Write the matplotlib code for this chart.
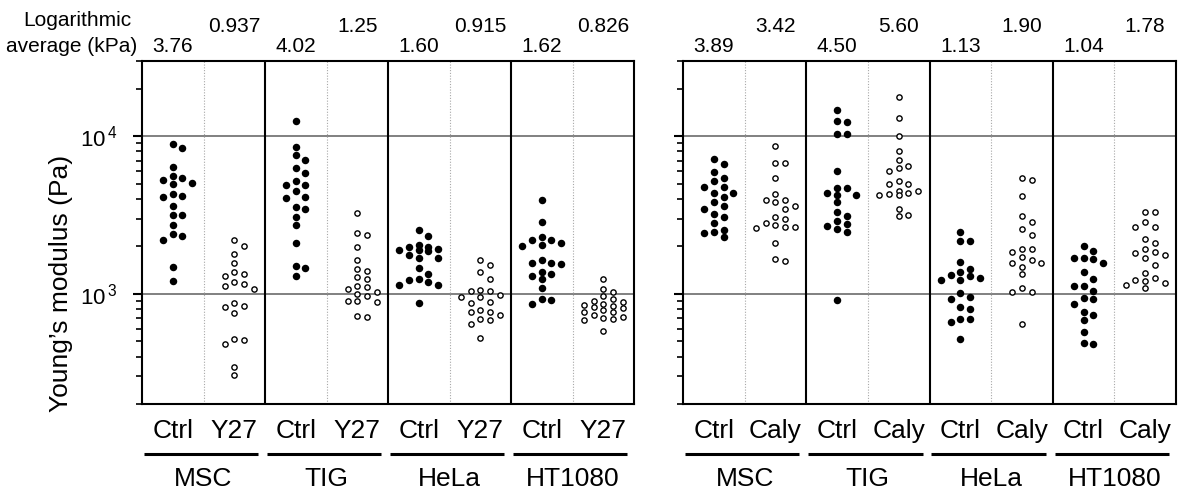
import numpy as np
import matplotlib
matplotlib.use("Agg")
import matplotlib.pyplot as plt
import matplotlib.transforms as mtransforms
from matplotlib.ticker import LogLocator, NullFormatter, FixedLocator

plt.rcParams['font.family'] = ['Liberation Sans', 'DejaVu Sans']
plt.rcParams['mathtext.fontset'] = 'custom'
plt.rcParams['mathtext.rm'] = 'Liberation Sans'

# Young's modulus per cell (Pa)
# left panel: Y-27632 experiment
msc_ctrl_a = [8900, 8440, 6340, 5580, 5270, 4970, 5040, 5420, 4300, 4110,
              4190, 3620, 3180, 3180, 2730, 2330, 2190, 2410, 1490, 1210]
msc_y27 = [2190, 2000, 1780, 1560, 1370, 1290, 1330, 1190, 1120, 1080,
           1150, 843, 758, 820, 873, 516, 483, 507, 342, 304]
tig_ctrl_a = [12500, 8480, 7620, 7080, 6330, 5800, 5210, 4870, 4900, 4460,
              4070, 4110, 3450, 3540, 3070, 2730, 2090, 1450, 1510, 1300]
tig_y27 = [3260, 2420, 2350, 1970, 1640, 1430, 1390, 1280, 1240, 1110,
           1025, 1080, 1120, 1000, 962, 899, 890, 899, 719, 712]
hela_ctrl_a = [2340, 2550, 2040, 1980, 1890, 1900, 1930, 1980, 1860, 1770,
               1680, 1680, 1450, 1330, 1230, 1140, 1135, 1180, 1250, 869]
hela_y27 = [1630, 1520, 1370, 1245, 1045, 990, 1050, 1045, 948, 957,
            885, 869, 733, 785, 770, 762, 685, 688, 646, 524]
ht_ctrl_a = [3950, 2840, 2290, 2180, 2030, 2020, 2110, 2180, 1560, 1640,
             1540, 1570, 1380, 1345, 1245, 1300, 1090, 908, 929, 865]
ht_y27 = [1250, 1070, 1034, 962, 899, 882, 925, 839, 808, 824, 848,
          856, 770, 733, 770, 785, 684, 698, 712, 691, 583]

# right panel: calyculin A experiment
msc_ctrl_b = [7120, 6710, 5890, 5470, 5160, 4780, 4780, 4340, 4340, 4110,
              3840, 3620, 3470, 3210, 3070, 2800, 2550, 2420, 2470, 2280]
msc_caly = [8730, 6810, 6810, 5420, 4280, 3920, 3840, 3930, 3470, 3610,
            2985, 3085, 2830, 2670, 2600, 2640, 2730, 2110, 1660, 1610]
tig_ctrl_b = [14600, 12270, 12500, 10340, 10340, 5980, 4690, 4690, 4260, 4210,
              4340, 3800, 3300, 3130, 2910, 2760, 2570, 2470, 2680, 912]
tig_caly = [17820, 13000, 10000, 8110, 7080, 6490, 6240, 5980, 5210, 4970,
            4970, 4490, 4360, 4210, 4210, 4270, 4490, 3470, 3150, 3120]
hela_ctrl_b = [2470, 2160, 2175, 1585, 1312, 1262, 1371, 1440, 1222, 1222,
               1289, 953, 1009, 934, 827, 804, 695, 659, 696, 519]
hela_caly = [5290, 5400, 4190, 3120, 2870, 2580, 2350, 1925, 1845, 1917,
             1563, 1489, 1633, 1706, 1563, 1331, 1025, 1025, 1082, 640]
ht_ctrl_b = [2014, 1863, 1683, 1563, 1657, 1683, 1371, 1238, 1119, 1040,
             1119, 925, 860, 939, 729, 678, 762, 572, 485, 480]
ht_caly = [3290, 3290, 2670, 2670, 2870, 2220, 2110, 1917, 1775, 1836,
           1827, 1683, 1528, 1352, 1262, 1214, 1140, 1082, 1175, 1221]

groups = ['MSC', 'TIG', 'HeLa', 'HT1080']
left_conds = ['Ctrl', 'Y27']
right_conds = ['Ctrl', 'Caly']
left_means = ['3.76', '0.937', '4.02', '1.25', '1.60', '0.915', '1.62', '0.826']
right_means = ['3.89', '3.42', '4.50', '5.60', '1.13', '1.90', '1.04', '1.78']

left_cols = [msc_ctrl_a, msc_y27, tig_ctrl_a, tig_y27,
             hela_ctrl_a, hela_y27, ht_ctrl_a, ht_y27]
right_cols = [msc_ctrl_b, msc_caly, tig_ctrl_b, tig_caly,
              hela_ctrl_b, hela_caly, ht_ctrl_b, ht_caly]

W, H = 1179, 497
YMIN, YMAX = 200, 30000
fig = plt.figure(figsize=(W / 100, H / 100), dpi=100)

ax_top, ax_bot = 61, 404
ax_l = fig.add_axes([142 / W, 1 - ax_bot / H, 492 / W, (ax_bot - ax_top) / H])
ax_r = fig.add_axes([683 / W, 1 - ax_bot / H, 493 / W, (ax_bot - ax_top) / H])


def swarm(vals, ppd, step_px=9.7, gap_px=7.0):
    # prism-like dot layout, at most 2 slots either side of the centre
    y = np.log10(vals) * ppd
    slots = {}
    offs = np.zeros(len(vals))
    for i in np.argsort(-y):
        best, best_d = 0, -1
        for k in [0, 1, -1, 2, -2]:
            d = min([abs(y[i] - yy) for yy in slots.get(k, [])] + [99])
            if d >= gap_px:
                best = k
                break
            if d > best_d:
                best, best_d = k, d
        slots.setdefault(best, []).append(y[i])
        offs[i] = best
    return offs * step_px


def draw_panel(ax, cols, conds, means, show_ylabels):
    ax.set_yscale('log')
    ax.set_ylim(YMIN, YMAX)
    ax.set_xlim(-0.5, 7.5)
    ppd = (ax_bot - ax_top) / (np.log10(YMAX) - np.log10(YMIN))
    col_px = ax.get_position().width * W / 8

    ax.axhline(1e3, color='#808080', lw=1.4, zorder=1)
    ax.axhline(1e4, color='#808080', lw=1.4, zorder=1)
    for xv in [1.5, 3.5, 5.5]:
        ax.axvline(xv, color='black', lw=1.5, zorder=2)
    for xv in [0.5, 2.5, 4.5, 6.5]:
        ax.axvline(xv, color='#a8a8a8', lw=0.8, ls=(0, (1, 1.5)), zorder=1)

    for i, vals in enumerate(cols):
        vals = np.array(vals, dtype=float)
        xs = i + swarm(vals, ppd) / col_px
        if i % 2 == 0:
            ax.plot(xs, vals, 'o', ms=5.4, mfc='black', mec='black', mew=0,
                    ls='none', zorder=3)
        else:
            ax.plot(xs, vals, 'o', ms=3.8, mfc='white', mec='black', mew=1.0,
                    ls='none', zorder=3)

    for s in ax.spines.values():
        s.set_linewidth(1.5)

    ax.yaxis.set_major_locator(FixedLocator([1e3, 1e4]))
    ax.yaxis.set_minor_locator(LogLocator(base=10, subs=np.arange(2, 10)))
    ax.yaxis.set_minor_formatter(NullFormatter())
    ax.tick_params(axis='y', which='major', length=6.5, width=1.5, pad=11)
    ax.tick_params(axis='y', which='minor', length=4.3, width=1.2)
    if show_ylabels:
        ax.set_yticklabels([r'$\mathregular{10^{\,3}}$', r'$\mathregular{10^{\,4}}$'],
                           fontsize=16)
    else:
        ax.set_yticklabels([])

    ax.set_xticks(range(8))
    ax.set_xticklabels(conds * 4, fontsize=19)
    ax.tick_params(axis='x', length=0, pad=11)

    tr = mtransforms.blended_transform_factory(ax.transData, ax.transAxes)
    hpx = ax_bot - ax_top
    for i, m in enumerate(means):
        base = 51.5 if i % 2 == 0 else 32.5
        ax.text(i, (ax_bot - base) / hpx, m, transform=tr, ha='center',
                va='baseline', fontsize=15)
    for g, name in enumerate(groups):
        c = 2 * g + 0.5 - 0.04
        ax.plot([c - 0.93, c + 0.93], [(ax_bot - 454) / hpx] * 2, transform=tr,
                color='black', lw=2.2, clip_on=False, solid_capstyle='butt')
        ax.text(2 * g + 0.5, (ax_bot - 486.5) / hpx, name, transform=tr,
                ha='center', va='baseline', fontsize=19)


draw_panel(ax_l, left_cols, left_conds, left_means, True)
draw_panel(ax_r, right_cols, right_conds, right_means, False)

fig.text(77 / W, 1 - 25.5 / H, 'Logarithmic', ha='center', va='baseline',
         fontsize=15)
fig.text(137 / W, 1 - 51.5 / H, 'average (kPa)', ha='right', va='baseline',
         fontsize=15)
fig.text(61 / W, 1 - 283 / H, 'Young\u2019s modulus (Pa)', rotation=90,
         ha='center', va='center', fontsize=19)

fig.savefig('out.png', dpi=100)
